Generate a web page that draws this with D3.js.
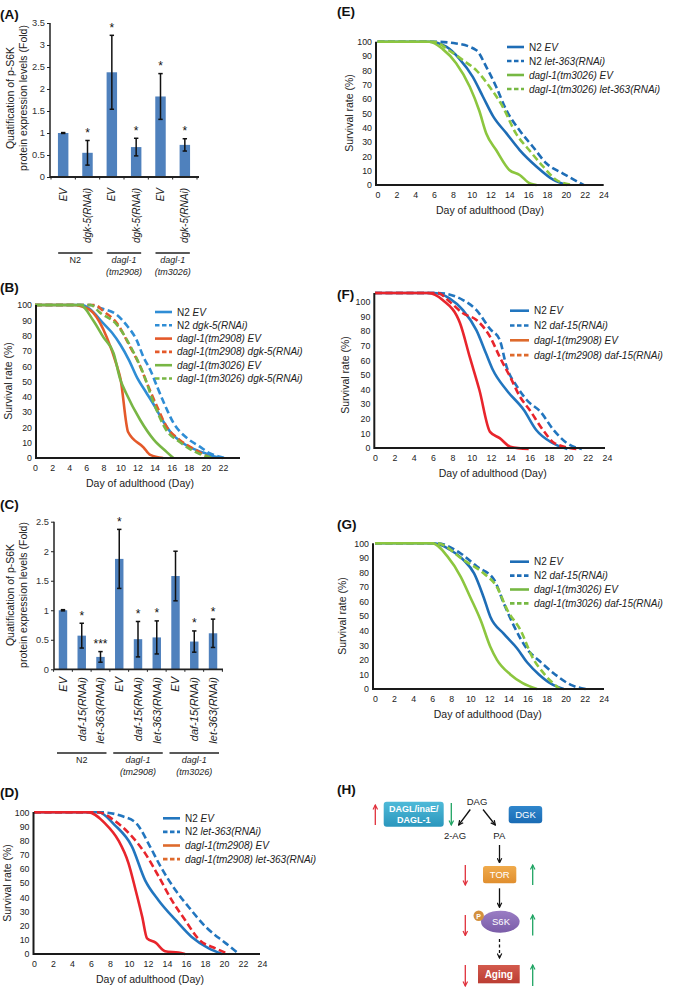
<!DOCTYPE html>
<html><head><meta charset="utf-8">
<script src="https://cdn.jsdelivr.net/npm/d3@7"></script>
<style>
html,body{margin:0;padding:0;background:#fff;}
svg{display:block;font-family:"Liberation Sans",Arial,Helvetica,sans-serif;}
</style></head><body>
<svg id="fig" width="674" height="987"></svg>
<script>
// ---------------- DATA ----------------
// Panel A (bar chart)
const barA_categories = ["EV","dgk-5(RNAi)","EV","dgk-5(RNAi)","EV","dgk-5(RNAi)"];
const barA_values = [1.0, 0.55, 2.38, 0.68, 1.83, 0.73];
const barA_errors = [0.01, 0.28, 0.84, 0.20, 0.52, 0.14];
const barA_sig = ["", "*", "*", "*", "*", "*"];
const barA_ticks = [0, 0.5, 1, 1.5, 2, 2.5, 3, 3.5];
const groupA_labels = [["N2"], ["dagl-1","(tm2908)"], ["dagl-1","(tm3026)"]];
const groupA_members = [[0,1],[2,3],[4,5]];

// Panel C (bar chart)
const barC_categories = ["EV","daf-15(RNAi)","let-363(RNAi)","EV","daf-15(RNAi)","let-363(RNAi)","EV","daf-15(RNAi)","let-363(RNAi)"];
const barC_values = [1.0, 0.57, 0.21, 1.87, 0.51, 0.54, 1.58, 0.47, 0.61];
const barC_errors = [0.01, 0.21, 0.09, 0.50, 0.30, 0.28, 0.42, 0.18, 0.24];
const barC_sig = ["", "*", "***", "*", "*", "*", "", "*", "*"];
const barC_ticks = [0, 0.5, 1, 1.5, 2, 2.5];
const groupC_labels = [["N2"], ["dagl-1","(tm2908)"], ["dagl-1","(tm3026)"]];
const groupC_members = [[0,1,2],[3,4,5],[6,7,8]];

// Survival axes
const survY_ticks = [0,10,20,30,40,50,60,70,80,90,100];
const survX_ticksB = [0,2,4,6,8,10,12,14,16,18,20,22];
const survX_ticks = [0,2,4,6,8,10,12,14,16,18,20,22,24];

// Panel B survival curves [day, % alive]
const B_N2_EV = [[0,100],[5.5,100],[6.5,97],[8,88],[9,82],[10,74],[11,64],[12,52],[13,43],[14,34],[15,24],[16,16],[17,11],[18,7.5],[19,5],[20,3],[21,1],[22,0]];
const B_N2_dgk5 = [[0,100],[6.5,100],[7.6,98],[9.6,93.5],[10.7,87],[11.9,77],[12.7,66],[13.5,57.5],[14.3,46.6],[15.1,36],[16.2,23],[17.8,13],[19.3,7.4],[20.5,3],[21.5,1],[22.3,0]];
const B_tm2908_EV = [[0,100],[4.5,100],[5.5,99],[6.8,95],[8.4,79],[9.6,60],[10.0,52],[10.9,17],[12.7,7],[13.5,2],[15,0]];
const B_tm2908_dgk5 = [[0,100],[7,100],[8,96],[9.6,88],[11.1,73],[12.3,60],[13.1,49],[14.3,33.5],[15.4,20.5],[16.9,12],[18.9,5],[20.5,0]];
const B_tm3026_EV = [[0,100],[5.3,100],[6.8,90],[8,79],[9.2,68.6],[10,51],[10.7,42],[12.3,25],[13.9,12],[15.4,4],[16.2,0]];
const B_tm3026_dgk5 = [[0,100],[6.5,100],[7.6,95],[9.6,87],[11.4,70.6],[12.7,55],[13.9,36],[15.4,18],[16.9,10.6],[19.3,2.6],[20.9,0]];
const B_legend = ["N2 EV","N2 dgk-5(RNAi)","dagl-1(tm2908) EV","dagl-1(tm2908) dgk-5(RNAi)","dagl-1(tm3026) EV","dagl-1(tm3026) dgk-5(RNAi)"];

// Panel D
const D_N2_EV = [[0,100],[6.8,100],[8.5,91],[10.3,76],[11.7,52],[13.1,38],[14.9,24],[16.6,12],[18.4,4],[19.8,0]];
const D_N2_let363 = [[0,100],[7,100],[9.4,97],[10.8,92],[12.2,76],[13.3,62],[14.9,45],[16.3,33],[18.1,19],[20.2,7.5],[21.6,0]];
const D_tm2908_EV = [[0,100],[5.7,100],[7.5,92],[8.9,80],[9.95,64],[10.7,45],[11.4,26],[11.9,11],[12.8,8],[13.8,2],[15.2,1],[15.9,0]];
const D_tm2908_let363 = [[0,100],[6.7,100],[8.5,94],[10.3,83],[11.7,71],[13.1,55],[14.5,38],[15.9,24],[17.4,10],[19.1,4],[20.5,0]];
const D_legend = ["N2 EV","N2 let-363(RNAi)","dagl-1(tm2908) EV","dagl-1(tm2908) let-363(RNAi)"];

// Panel E
const E_N2_EV = [[0,100],[5.5,100],[7.3,96.5],[8.7,88],[10.1,75.6],[11.2,61.6],[12.3,47.7],[13.7,36],[15.1,24.4],[16.9,12.8],[18.7,3.5],[20.1,0]];
const E_N2_let363 = [[0,100],[6,100],[8.35,98.8],[10.5,94],[11.55,82.5],[12.6,68.6],[13.7,52],[15.1,38],[16.5,26.7],[17.95,15],[19.7,8],[21.9,0]];
const E_tm3026_EV = [[0,100],[5.5,100],[6.9,95],[8.35,85],[9.8,68.6],[10.8,52],[11.55,36],[12.6,24.4],[14.0,10.5],[15.1,7],[16.2,1],[16.9,0]];
const E_tm3026_let363 = [[0,100],[6,100],[7.6,94],[9.1,87],[10.5,80],[11.9,68.6],[13.3,54.6],[14.7,36],[16.1,24.4],[17.6,12.8],[19.0,3.5],[20.7,0]];
const E_legend = ["N2 EV","N2 let-363(RNAi)","dagl-1(tm3026) EV","dagl-1(tm3026) let-363(RNAi)"];

// Panel F
const F_N2_EV = [[0,100],[6,100],[7.7,96.6],[9.1,89],[10.5,76],[11.5,61],[12.2,50.6],[13.6,37.8],[15.4,25],[16.7,12],[18.3,4],[19.9,0]];
const F_N2_daf15 = [[0,100],[6.5,100],[9.1,95.5],[10.5,89],[11.9,77],[12.9,70],[13.6,53],[14.7,40],[15.7,31.4],[17.1,24],[18.5,12],[19.9,3.6],[21.4,0]];
const F_tm2908_EV = [[0,100],[5.5,100],[7.0,95.5],[8.8,80.6],[9.8,59],[10.8,37.8],[11.9,11],[12.9,7],[14.0,1.5],[15.9,0]];
const F_tm2908_daf15 = [[0,100],[6.5,100],[7.7,94.5],[9.1,87],[10.5,82.7],[11.9,72],[12.9,59],[14.0,46],[15.0,33.5],[16.0,25],[17.4,12],[18.6,3.6],[20.9,0]];
const F_legend = ["N2 EV","N2 daf-15(RNAi)","dagl-1(tm2908) EV","dagl-1(tm2908) daf-15(RNAi)"];

// Panel G
const G_N2_EV = [[0,100],[6.2,100],[7.9,95.4],[9.3,88.5],[10.4,79.4],[11.4,63],[12.1,49.6],[13.5,38],[14.9,28],[16.0,18],[17.2,10],[18.5,3.5],[19.8,0]];
const G_N2_daf15 = [[0,100],[6.5,100],[9.0,93],[10.7,84],[12.5,75],[13.5,59],[14.6,43],[16.0,27],[17.3,19],[18.9,10],[20.5,3],[22.1,0]];
const G_tm3026_EV = [[0,100],[6,100],[7.6,91],[9.0,77],[10.0,63],[11.1,47],[12.1,29],[12.8,20],[14.2,10],[15.5,4],[17.0,0]];
const G_tm3026_daf15 = [[0,100],[6.5,100],[9.3,88.5],[11.4,79.4],[12.8,70],[13.9,54],[15.3,40],[16.5,22],[17.8,10],[19.4,0]];
const G_legend = ["N2 EV","N2 daf-15(RNAi)","dagl-1(tm3026) EV","dagl-1(tm3026) daf-15(RNAi)"];

// Panel H labels
const H_nodes = ["DAGL/inaE/","DAGL-1","DAG","2-AG","PA","DGK","TOR","S6K","P","Aging"];

const panelLabels = ["(A)","(B)","(C)","(D)","(E)","(F)","(G)","(H)"];

// ---------------- DRAW ----------------
const svg = d3.select("#fig");
svg.append("rect").attr("width",674).attr("height",987).attr("fill","#fff");
const FONT = '"Liberation Sans",Arial,Helvetica,sans-serif';

const labelPos = [[0,19],[0,292],[0,509],[0,797],[337,16],[337,299],[337,529],[337,794]];
panelLabels.forEach((t,i)=>{
  svg.append("text").attr("x",labelPos[i][0]).attr("y",labelPos[i][1])
    .attr("font-size",13.5).attr("font-weight","bold").attr("fill","#111").text(t);
});

function richText(sel, label){
  const parts = label.startsWith("N2 ") ? [["N2\u00A0",false],[label.slice(3),true]] : [[label,true]];
  parts.forEach(p=>sel.append("tspan").attr("font-style",p[1]?"italic":"normal").text(p[0]));
}

function barPanel(c){
  const g = svg.append("g");
  const x = d3.scaleBand().domain(d3.range(c.values.length)).range(c.xRange)
    .paddingInner(c.pad).paddingOuter(c.pad/2);
  const y = d3.scaleLinear().domain([0,c.yMax]).range([c.yBottom,c.yTop]);
  g.selectAll("rect.bar").data(c.values).join("rect")
    .attr("x",(d,i)=>x(i)).attr("y",d=>y(d)).attr("width",x.bandwidth())
    .attr("height",d=>c.yBottom-y(d)).attr("fill","#4f81bd");
  const cx = i => x(i)+x.bandwidth()/2;
  const eb = g.append("g").attr("stroke","#111").attr("stroke-width",1.5).attr("fill","none");
  c.values.forEach((v,i)=>{
    const e = c.errors[i];
    const yt = y(v+e), yb = y(v-e);
    eb.append("line").attr("x1",cx(i)).attr("x2",cx(i)).attr("y1",yt).attr("y2",yb);
    eb.append("line").attr("x1",cx(i)-2.2).attr("x2",cx(i)+2.2).attr("y1",yt).attr("y2",yt);
    eb.append("line").attr("x1",cx(i)-2.2).attr("x2",cx(i)+2.2).attr("y1",yb).attr("y2",yb);
    if(c.sig[i]) g.append("text").attr("x",cx(i)).attr("y",yt-3.5).attr("text-anchor","middle")
      .attr("font-size",12).attr("fill","#111").text(c.sig[i]);
  });
  // y axis
  const ya = g.append("g").attr("transform",`translate(${c.axisX},0)`)
    .call(d3.axisLeft(y).tickValues(c.ticks).tickSize(3).tickPadding(2).tickFormat(d=>String(d)));
  ya.select(".domain").remove();
  ya.selectAll("text").attr("font-size",9.3).attr("font-family",FONT).attr("fill","#333");
  ya.selectAll("line").attr("stroke","#222");
  g.append("line").attr("x1",c.axisX).attr("x2",c.axisX).attr("y1",c.yTop).attr("y2",c.yBottom)
    .attr("stroke","#222").attr("stroke-width",1.5);
  g.append("line").attr("x1",c.axisX).attr("x2",c.xAxisEnd).attr("y1",c.yBottom).attr("y2",c.yBottom)
    .attr("stroke","#222").attr("stroke-width",1.8);
  d3.range(c.values.length+1).forEach(i=>{
    const bx = c.xRange[0] + i*x.step();
    g.append("line").attr("x1",bx).attr("x2",bx).attr("y1",c.yBottom).attr("y2",c.yBottom+2.5)
      .attr("stroke","#222").attr("stroke-width",1);
  });
  // x labels rotated
  c.categories.forEach((t,i)=>{
    g.append("text").attr("transform",`translate(${cx(i)},${c.labelTop}) rotate(-90)`)
      .attr("text-anchor","end").attr("dy","0.35em").attr("font-size",c.labelSize)
      .attr("font-style","italic").attr("fill","#222").text(t);
  });
  // groups
  c.groups.forEach((m,k)=>{
    const x1 = cx(m[0])-c.gExt, x2 = cx(m[m.length-1])+c.gExt, mid=(cx(m[0])+cx(m[m.length-1]))/2;
    g.append("line").attr("x1",x1).attr("x2",x2).attr("y1",c.gLineY).attr("y2",c.gLineY)
      .attr("stroke","#222").attr("stroke-width",1.4);
    c.groupLabels[k].forEach((t,j)=>{
      g.append("text").attr("x",mid).attr("y",c.gLineY+10+j*12).attr("text-anchor","middle")
        .attr("font-size",9).attr("fill","#222").attr("font-style",t==="N2"?"normal":"italic").text(t);
    });
  });
  // y title
  c.yTitle.forEach((t,j)=>{
    g.append("text").attr("transform",`translate(${c.yTitleX[j]},${c.yTitleY}) rotate(-90)`)
      .attr("text-anchor","middle").attr("dy","0.35em").attr("font-size",10.5).attr("fill","#222").text(t);
  });
}

barPanel({values:barA_values, errors:barA_errors, sig:barA_sig, categories:barA_categories,
  ticks:barA_ticks, yMax:3.5, xRange:[51,197], pad:0.57, yBottom:177, yTop:23, axisX:50, xAxisEnd:199,
  labelTop:188, labelSize:10, groups:groupA_members, groupLabels:groupA_labels, gExt:5, gLineY:253,
  yTitle:["Quatification of p-S6K","protein expression levels (Fold)"], yTitleX:[10,23], yTitleY:98});

barPanel({values:barC_values, errors:barC_errors, sig:barC_sig, categories:barC_categories,
  ticks:barC_ticks, yMax:2.5, xRange:[53.6,222.4], pad:0.55, yBottom:669.3, yTop:521.7, axisX:54, xAxisEnd:223,
  labelTop:677, labelSize:11, groups:groupC_members, groupLabels:groupC_labels, gExt:6, gLineY:753,
  yTitle:["Quatification of p-S6K","protein expression levels (Fold)"], yTitleX:[10,23], yTitleY:595});

function survPanel(c){
  const g = svg.append("g");
  const x = d3.scaleLinear().domain([0,24]).range(c.xRange);
  const yA = d3.scaleLinear().domain([0,100]).range(c.yRange);
  const yC = c.curveRange ? d3.scaleLinear().domain([0,100]).range(c.curveRange) : yA;
  const ya = g.append("g").attr("transform",`translate(${c.axisX},0)`)
    .call(d3.axisLeft(yA).tickValues(survY_ticks).tickSize(0).tickPadding(4));
  ya.select(".domain").remove();
  ya.selectAll("text").attr("font-size",8.8).attr("font-family",FONT).attr("fill","#222");
  const xa = g.append("g").attr("transform",`translate(0,${c.yRange[0]})`)
    .call(d3.axisBottom(x).tickValues(c.xTicks).tickSize(0).tickPadding(6.5));
  xa.select(".domain").remove();
  xa.selectAll("text").attr("font-size",8.8).attr("font-family",FONT).attr("fill","#222");
  const line = d3.line().x(d=>x(d[0])).y(d=>yC(d[1])).curve(d3.curveMonotoneX);
  c.series.forEach(s=>{
    g.append("path").datum(s.data).attr("d",line).attr("fill","none").attr("stroke",s.color)
      .attr("stroke-width",2.6).attr("stroke-dasharray",s.dash?"7,3.5":null)
      .attr("stroke-linejoin","round");
  });
  g.append("line").attr("x1",c.axisX).attr("x2",c.axisX).attr("y1",c.axisTop).attr("y2",c.yRange[0]+1)
    .attr("stroke","#1a1a1a").attr("stroke-width",2);
  g.append("line").attr("x1",c.axisX).attr("x2",c.xAxisEnd).attr("y1",c.yRange[0]).attr("y2",c.yRange[0])
    .attr("stroke","#1a1a1a").attr("stroke-width",2);
  g.append("text").attr("transform",`translate(${c.yTitleX},${c.yTitleY}) rotate(-90)`)
    .attr("text-anchor","middle").attr("dy","0.35em").attr("font-size",10.5).attr("fill","#222")
    .text("Survival rate (%)");
  g.append("text").attr("x",c.xTitleX).attr("y",c.yRange[0]+29).attr("text-anchor","middle")
    .attr("font-size",10.5).attr("fill","#222").text("Day of adulthood (Day)");
  c.legend.forEach((t,i)=>{
    const yy = c.legY + i*c.legDy;
    const s = c.series[i];
    g.append("line").attr("x1",c.legX).attr("x2",c.legX+c.legLen).attr("y1",yy).attr("y2",yy)
      .attr("stroke",s.legColor||s.color).attr("stroke-width",2.6)
      .attr("stroke-dasharray",s.dash?"4.5,2.5":null);
    const tx = g.append("text").attr("x",c.legX+c.legLen+5).attr("y",yy).attr("dy","0.35em")
      .attr("font-size",10).attr("fill","#222");
    richText(tx,t);
  });
}

const BLUE_B="#2f8dd5", ORANGE="#e4592a", GREEN_B="#78b645";
const BLUE_D="#2276bf", RED="#e8252c", ORANGE_L="#de6a2c";
const BLUE_E="#1e6db6", GREEN_E="#8cc63f", GREEN_L="#76b843";

survPanel({xRange:[35,240], yRange:[458,305], axisX:36, axisTop:305, xAxisEnd:240, xTicks:survX_ticksB,
  yTitleX:8, yTitleY:381, xTitleX:140, legX:155, legLen:17, legY:312, legDy:13.3, legend:B_legend,
  series:[{data:B_N2_EV,color:BLUE_B},{data:B_N2_dgk5,color:BLUE_B,dash:true},
    {data:B_tm2908_EV,color:ORANGE},{data:B_tm2908_dgk5,color:ORANGE,dash:true},
    {data:B_tm3026_EV,color:GREEN_B},{data:B_tm3026_dgk5,color:GREEN_B,dash:true}]});

survPanel({xRange:[34,262], yRange:[954,812.3], axisX:33.5, axisTop:812, xAxisEnd:260, xTicks:survX_ticks,
  yTitleX:7, yTitleY:883, xTitleX:150, legX:163, legLen:17, legY:818.3, legDy:13.6, legend:D_legend,
  series:[{data:D_N2_EV,color:BLUE_D},{data:D_N2_let363,color:BLUE_D,dash:true},
    {data:D_tm2908_EV,color:RED,legColor:ORANGE_L},{data:D_tm2908_let363,color:RED,dash:true,legColor:ORANGE_L}]});

survPanel({xRange:[377.5,603.5], yRange:[185,41.7], axisX:376, axisTop:41.7, xAxisEnd:603.7, xTicks:survX_ticks,
  yTitleX:349, yTitleY:113, xTitleX:490, legX:507, legLen:17, legY:47, legDy:14, legend:E_legend,
  series:[{data:E_N2_EV,color:BLUE_E},{data:E_N2_let363,color:BLUE_E,dash:true},
    {data:E_tm3026_EV,color:GREEN_E,legColor:GREEN_L},{data:E_tm3026_let363,color:GREEN_E,dash:true,legColor:GREEN_L}]});

survPanel({xRange:[375,607], yRange:[448,301.7], curveRange:[449,293], axisX:374.3, axisTop:293, xAxisEnd:605, xTicks:survX_ticks,
  yTitleX:345, yTitleY:375, xTitleX:492.7, legX:510, legLen:19, legY:310.7, legDy:14.8, legend:F_legend,
  series:[{data:F_N2_EV,color:BLUE_D},{data:F_N2_daf15,color:BLUE_D,dash:true},
    {data:F_tm2908_EV,color:RED,legColor:ORANGE_L},{data:F_tm2908_daf15,color:RED,dash:true,legColor:ORANGE_L}]});

survPanel({xRange:[375,603.7], yRange:[689,543.3], axisX:373, axisTop:543.3, xAxisEnd:604, xTicks:survX_ticks,
  yTitleX:342, yTitleY:616, xTitleX:487.7, legX:510, legLen:19, legY:561.7, legDy:13.9, legend:G_legend,
  series:[{data:G_N2_EV,color:BLUE_E},{data:G_N2_daf15,color:BLUE_E,dash:true},
    {data:G_tm3026_EV,color:GREEN_E,legColor:GREEN_L},{data:G_tm3026_daf15,color:GREEN_E,dash:true,legColor:GREEN_L}]});

// ---------------- PANEL H ----------------
const defs = svg.append("defs");
function marker(id,color){
  defs.append("marker").attr("id",id).attr("viewBox","0 0 8 8").attr("refX",7).attr("refY",4)
    .attr("markerWidth",6).attr("markerHeight",6).attr("markerUnits","userSpaceOnUse").attr("orient","auto")
    .append("path").attr("d","M1,1 L7,4 L1,7").attr("fill","none").attr("stroke",color).attr("stroke-width",1.6);
}
marker("ahK","#111"); marker("ahR","#e0303c"); marker("ahG","#1fa463");
function grad(id,c1,c2){
  const lg = defs.append("linearGradient").attr("id",id).attr("x1",0).attr("y1",0).attr("x2",0).attr("y2",1);
  lg.append("stop").attr("offset","0%").attr("stop-color",c1);
  lg.append("stop").attr("offset","100%").attr("stop-color",c2);
}
grad("gDagl","#4fbad8","#2a96bd"); grad("gDgk","#2f86cc","#1a6bb4");
grad("gTor","#f0ab4c","#e08e2e"); grad("gS6k","#9a7dc4","#7a5ca8");
grad("gAging","#d35a4d","#bb3d33");

const H = svg.append("g");
function arr(x1,y1,x2,y2,m,col,dash){
  H.append("line").attr("x1",x1).attr("y1",y1).attr("x2",x2).attr("y2",y2)
    .attr("stroke",col).attr("stroke-width",1.3).attr("stroke-dasharray",dash?"3,2.5":null)
    .attr("marker-end",`url(#${m})`);
}
function hText(t,x,y,size,col,bold){
  H.append("text").attr("x",x).attr("y",y).attr("text-anchor","middle").attr("font-size",size)
    .attr("fill",col).attr("font-weight",bold?"bold":"normal").text(t);
}
H.append("rect").attr("x",383.7).attr("y",801.7).attr("width",60).attr("height",25).attr("rx",3).attr("fill","url(#gDagl)");
hText(H_nodes[0],413.7,811.5,9,"#fff",true);
hText(H_nodes[1],413.7,823.3,9,"#fff",true);
hText(H_nodes[2],477,805,9.5,"#222",false);
hText(H_nodes[3],455,838.5,9.5,"#222",false);
hText(H_nodes[4],499.3,838.5,9.5,"#222",false);
H.append("rect").attr("x",508.7).attr("y",806).attr("width",33.5).attr("height",17.3).attr("rx",3).attr("fill","url(#gDgk)");
hText(H_nodes[5],525.5,818.2,9.5,"#fff",false);
H.append("rect").attr("x",483).attr("y",866).attr("width",33.3).attr("height",17.3).attr("rx",2.5).attr("fill","url(#gTor)");
hText(H_nodes[6],499.7,878.2,9.5,"#fff",false);
H.append("ellipse").attr("cx",500.3).attr("cy",921.7).attr("rx",19.3).attr("ry",11).attr("fill","url(#gS6k)");
hText(H_nodes[7],501,925,9.5,"#fff",false);
H.append("circle").attr("cx",478.7).attr("cy",915.8).attr("r",5.2).attr("fill","#d4913e");
hText(H_nodes[8],478.7,918.5,7,"#fff",true);
H.append("rect").attr("x",478).attr("y",965).attr("width",41.7).attr("height",18.3).attr("fill","url(#gAging)");
hText(H_nodes[9],498.8,978.3,10,"#fff",true);
arr(375.3,825,375.3,805,"ahR","#e0303c");
arr(451.3,803,451.3,825,"ahG","#1fa463");
arr(470.3,809.5,458.7,825,"ahK","#111");
arr(483,809.5,495.3,825,"ahK","#111");
arr(499.5,845,499.5,862.7,"ahK","#111");
arr(499.5,888.3,499.5,907.3,"ahK","#111");
arr(499.5,939,499.5,958,"ahK","#111",true);
[[865,885],[915,935.5],[965,986]].forEach(p=>{
  arr(465.3,p[0],465.3,p[1],"ahR","#e0303c");
  arr(532.7,p[1],532.7,p[0],"ahG","#1fa463");
});
</script>
</body></html>
